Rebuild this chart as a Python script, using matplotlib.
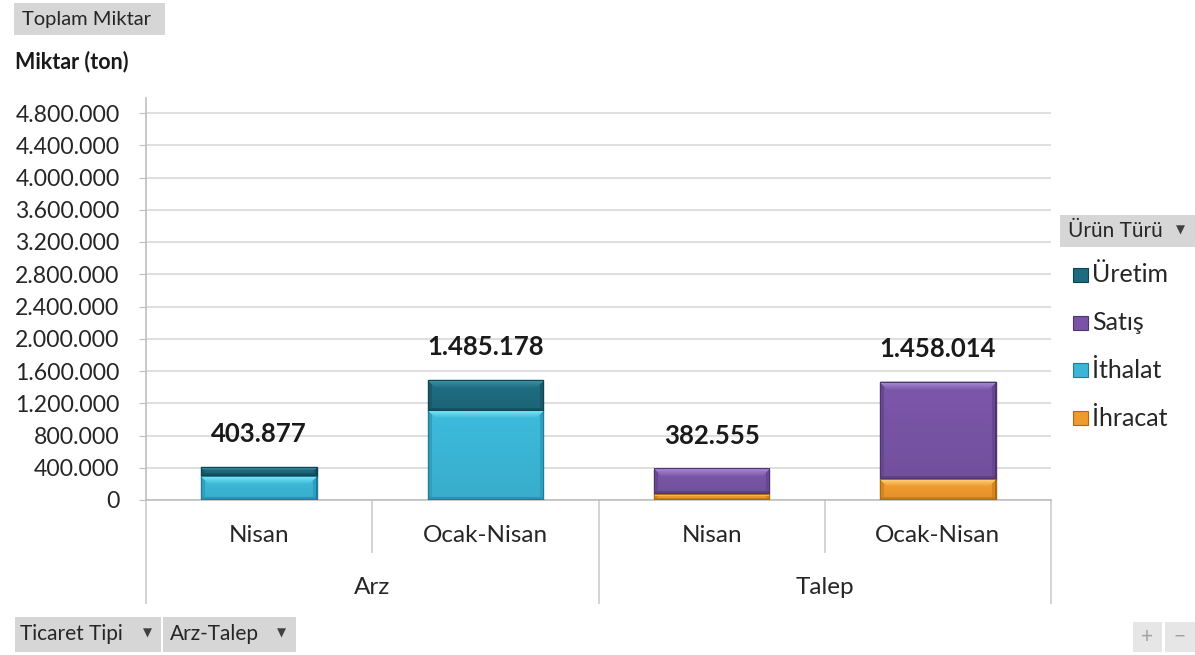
import matplotlib
matplotlib.use("Agg")
import matplotlib.pyplot as plt
import matplotlib.transforms as mtransforms
from matplotlib.patches import Rectangle
from matplotlib.colors import to_rgb
import numpy as np

plt.rcParams['font.family'] = ['Lato', 'DejaVu Sans']

# ---- data ----
sub_categories = ["Nisan", "Ocak-Nisan", "Nisan", "Ocak-Nisan"]
groups = ["Arz", "Talep"]
uretim = [108877, 380178, 0, 0]
satis = [0, 0, 312555, 1200014]
ithalat = [295000, 1105000, 0, 0]
ihracat = [0, 0, 70000, 258000]
yticks = [0, 400000, 800000, 1200000, 1600000, 2000000, 2400000, 2800000,
          3200000, 3600000, 4000000, 4400000, 4800000]
series_names = ["Üretim", "Satış", "İthalat", "İhracat"]
colors = {"Üretim": "#1e6a7e", "Satış": "#7954a6", "İthalat": "#3bb6d6", "İhracat": "#ee9a2c"}
edge_colors = {"Üretim": "#11424f", "Satış": "#4e3572", "İthalat": "#1f7d98", "İhracat": "#b06a10"}
hi_colors = {"Üretim": "#3a93a8", "Satış": "#a98ad6", "İthalat": "#7ae6f7", "İhracat": "#ffd27a"}

W, H = 1195, 655
fig = plt.figure(figsize=(W / 100, H / 100), dpi=100)
fig.patch.set_facecolor("white")

def fx(px):
    return px / W

def fy(py):
    return 1 - py / H

ax_l, ax_r, ax_t, ax_b = 146, 1051, 98, 500
ax = fig.add_axes([fx(ax_l), fy(ax_b), fx(ax_r - ax_l), (ax_b - ax_t) / H])
ymax = 4800000 * (ax_b - ax_t) / (ax_b - 113)
x = np.arange(len(sub_categories))
bw = 0.51
px_per_y = (ax_b - ax_t) / ymax
px_per_x = (ax_r - ax_l) / 4.0


def seg_image(name, w, h):
    base = np.array(to_rgb(colors[name]))
    hi = np.array(to_rgb(hi_colors[name]))
    dk = np.array(to_rgb(edge_colors[name]))
    img = np.tile(base, (h, w, 1))
    yy = np.arange(h)[:, None] * np.ones((1, w))
    xx = np.ones((h, 1)) * np.arange(w)[None, :]
    bev = max(1.0, min(8.0, h / 3.0))
    # subtle vertical body gradient
    t = yy / max(h - 1, 1)
    img = img * (1.03 - 0.08 * t[..., None])
    # top bevel (trapezoid), light
    top = (yy < bev) & (xx >= yy) & (xx < w - yy)
    tt = (yy / bev)[..., None]
    topcol = hi * (1 - tt) + base * tt
    img = np.where(top[..., None], topcol, img)
    # side bevels, darker
    sb = 4.0
    side = ((xx < sb) | (xx >= w - sb)) & ~top
    img = np.where(side[..., None], base * 0.6 + dk * 0.4, img)
    # bottom bevel
    bot = (h - 1 - yy) < min(3.0, h / 4.0)
    img = np.where(bot[..., None], base * 0.4 + dk * 0.6, img)
    # outline
    edge = (xx < 1) | (xx >= w - 1) | (yy < 1) | (yy >= h - 1)
    img = np.where(edge[..., None], dk, img)
    return np.clip(img, 0, 1)


stack_order = [("İhracat", ihracat), ("İthalat", ithalat), ("Satış", satis), ("Üretim", uretim)]
bottom = np.zeros(len(x))
for name, vals in stack_order:
    vals = np.array(vals, dtype=float)
    bars = ax.bar(x, vals, bw, bottom=bottom, color=colors[name],
                  edgecolor=edge_colors[name], linewidth=1.0, zorder=3)
    for xi, b0, v in zip(x, bottom, vals):
        if v <= 0:
            continue
        wpx = int(round(bw * px_per_x))
        hpx = max(2, int(round(v * px_per_y)))
        ax.imshow(seg_image(name, wpx, hpx),
                  extent=[xi - bw / 2, xi + bw / 2, b0, b0 + v],
                  origin="upper", aspect="auto", interpolation="bilinear",
                  zorder=3.5)
    bottom += vals

ax.set_ylim(0, ymax)
ax.set_xlim(-0.5, 3.5)

totals = bottom
for xi, t in zip(x, totals):
    lbl = f"{int(round(t)):,}".replace(",", ".")
    ax.annotate(lbl, (xi, t), xytext=(0, 24), textcoords="offset points",
                ha="center", va="center", fontsize=18.5, fontweight="bold",
                color="#1a1a1a", zorder=5)

# grid and axes styling
ax.set_yticks(yticks)
ax.set_yticklabels([f"{v:,}".replace(",", ".") for v in yticks])
ax.yaxis.grid(True, color="#d9d9d9", linewidth=1.2, zorder=0)
ax.set_axisbelow(True)
ax.tick_params(axis="y", length=5, color="#bfbfbf", pad=14, labelsize=16.6,
               labelcolor="#262626")
ax.tick_params(axis="x", length=0, labelbottom=False)
for s in ["top", "right"]:
    ax.spines[s].set_visible(False)
ax.spines["left"].set_color("#bfbfbf")
ax.spines["bottom"].set_color("#bfbfbf")
ax.spines["left"].set_linewidth(1.2)
ax.spines["bottom"].set_linewidth(1.2)

# multi-level category axis
trans = mtransforms.blended_transform_factory(ax.transData, ax.transAxes)
hpx_ax = ax_b - ax_t
def ay(py):
    return (ax_b - py) / hpx_ax

for xs, yend in [(-0.5, 603), (0.5, 552), (1.5, 603), (2.5, 552), (3.5, 603)]:
    ax.plot([xs, xs], [0, ay(yend)], transform=trans, color="#d0d0d0",
            linewidth=1.3, clip_on=False, zorder=2)
for xi, lab in zip(x, sub_categories):
    ax.text(xi, ay(535), lab, transform=trans, ha="center", va="center",
            fontsize=17.5, color="#262626")
for gi, g in enumerate(groups):
    ax.text(2 * gi + 0.5, ay(588), g, transform=trans, ha="center", va="center",
            fontsize=17.5, color="#262626")


# titles / buttons
def box(x0, x1, y0, y1, face="#d6d6d6"):
    fig.patches.append(Rectangle((fx(x0), fy(y1)), fx(x1 - x0), (y1 - y0) / H,
                                 transform=fig.transFigure, facecolor=face,
                                 edgecolor="none", zorder=1))


def button(x0, x1, y0, y1, text, tx, fs=15, arrow_x=None, color="#262626",
           face="#d6d6d6", ha="left"):
    box(x0, x1, y0, y1, face)
    fig.text(fx(tx), fy((y0 + y1) / 2), text, ha=ha, va="center",
             fontsize=fs, color=color)
    if arrow_x is not None:
        fig.text(fx(arrow_x), fy((y0 + y1) / 2 - 1), "\u25BC", ha="center",
                 va="center", fontsize=8.5, color="#404040",
                 family="DejaVu Sans")


button(14, 165, 3, 35, "Toplam Miktar", 22, fs=14.5)
fig.text(fx(15), fy(62), "Miktar (ton)", ha="left", va="center", fontsize=15.5,
         fontweight="bold", color="#1a1a1a")
button(15, 161, 617, 652, "Ticaret Tipi", 20, fs=15, arrow_x=147)
button(163, 296, 617, 652, "Arz-Talep", 170, fs=15, arrow_x=281)
button(1060, 1195, 215, 247, "Ürün Türü", 1068, fs=15, arrow_x=1180)
button(1133, 1162, 622, 652, "+", 1147.5, fs=15, color="#a0a0a0",
       face="#e6e6e6", ha="center")
button(1165, 1195, 622, 652, "\u2212", 1180, fs=15, color="#a0a0a0",
       face="#e6e6e6", ha="center")

# legend
leg_y = [275, 323, 370, 418]
for name, yy in zip(series_names, leg_y):
    fig.patches.append(Rectangle((fx(1073), fy(yy + 7)), fx(15), 14 / H,
                                 transform=fig.transFigure, facecolor=colors[name],
                                 edgecolor=edge_colors[name], linewidth=0.8))
    fig.text(fx(1092), fy(yy), name, ha="left", va="center", fontsize=18,
             color="#262626")

fig.savefig("out.png", dpi=100, facecolor="white")
